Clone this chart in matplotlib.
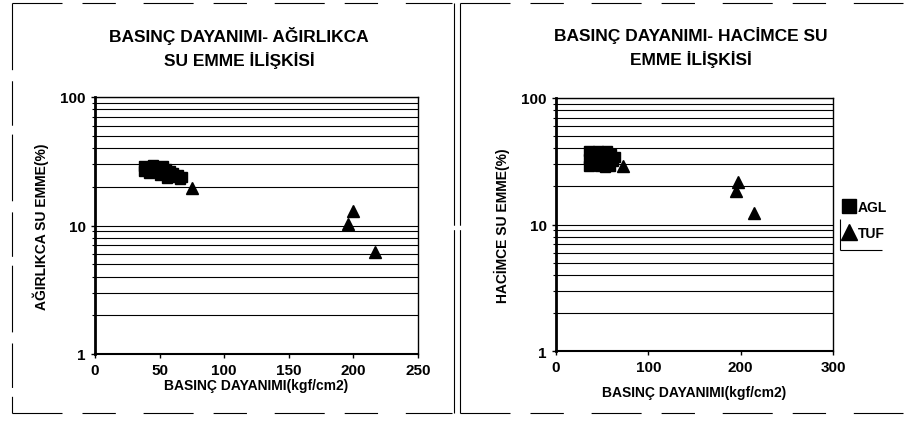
import matplotlib.pyplot as plt
from matplotlib.lines import Line2D
from matplotlib.ticker import FixedLocator, NullFormatter

plt.rcParams["font.family"] = ["Liberation Sans", "DejaVu Sans"]
plt.rcParams["font.weight"] = "bold"

# left chart: compressive strength vs water absorption by weight
agl_w_x = [38, 38, 42, 45, 45, 48, 50, 52, 53, 55, 57, 58, 60, 62, 64, 66, 67, 50, 42, 56]
agl_w_y = [29, 26.5, 28, 29.5, 26, 28.5, 27, 25, 29, 27.5, 24.5, 26.5, 25.5, 24, 24.5, 23, 24, 24.5, 25.5, 23.5]
tuf_w_x = [75, 200, 196, 217]
tuf_w_y = [19.5, 13.0, 10.3, 6.2]

# right chart: compressive strength vs water absorption by volume
agl_v_x = [36, 36, 36, 40, 42, 45, 46, 48, 50, 52, 55, 56, 58, 60, 62, 64, 44, 53]
agl_v_y = [38, 33, 29, 37, 31, 38, 34, 29, 36, 31.5, 38, 34, 29, 36, 32, 34, 35, 28.5]
tuf_v_x = [73, 197, 195, 214]
tuf_v_y = [29, 21.5, 18.5, 12.3]

left_xticks = [0, 50, 100, 150, 200, 250]
right_xticks = [0, 100, 200, 300]
yticks = [1, 10, 100]

fig = plt.figure(figsize=(9.07, 4.27), dpi=100)


# scanned page frames (broken lines)
def frame_line(x0, y0, x1, y1, dashes=(45, 18, 30, 25)):
    fig.add_artist(Line2D([x0 / 907, x1 / 907], [1 - y0 / 427, 1 - y1 / 427],
                          color="black", lw=0.8, dashes=dashes))


frame_line(12, 4, 452, 4)
frame_line(12, 4, 12, 414, dashes=(60, 10, 40, 8))
frame_line(12, 414, 452, 414)
frame_line(454, 4, 454, 414, dashes=(200, 4))
frame_line(460, 4, 903, 4)
frame_line(460, 4, 460, 414, dashes=(200, 4))
frame_line(460, 414, 903, 414)


def setup(ax, xmax, xticks):
    ax.set_yscale("log")
    ax.set_ylim(1, 100)
    ax.set_xlim(0, xmax)
    ax.set_xticks(xticks)
    ax.set_yticks(yticks)
    ax.set_yticklabels([str(t) for t in yticks])
    minors = [m * 10 ** d for d in range(0, 2) for m in range(2, 10)]
    ax.yaxis.set_minor_locator(FixedLocator(minors))
    ax.yaxis.set_minor_formatter(NullFormatter())
    ax.grid(True, which="both", axis="y", color="black", lw=0.8)
    ax.tick_params(axis="both", which="major", labelsize=11, length=3, width=1)
    ax.tick_params(axis="y", which="minor", length=2, width=0.8)
    for s in ax.spines.values():
        s.set_linewidth(1.0)
    ax.spines["left"].set_linewidth(2.0)
    ax.spines["bottom"].set_linewidth(1.5)
    for lab in ax.get_xticklabels() + ax.get_yticklabels():
        lab.set_fontweight("bold")


ax1 = fig.add_axes([95 / 907, 1 - 355 / 427, 323 / 907, 257 / 427])
setup(ax1, 250, left_xticks)
ax1.plot(agl_w_x, agl_w_y, "s", color="black", ms=7, ls="none", label="AGL")
ax1.plot(tuf_w_x, tuf_w_y, "^", color="black", ms=8, ls="none", label="TUF")
ax1.set_xlabel("BASINÇ DAYANIMI(kgf/cm2)", fontsize=10, fontweight="bold", labelpad=1)
ax1.set_ylabel("AĞIRLIKCA SU EMME(%)", fontsize=10, fontweight="bold", labelpad=8)

ax2 = fig.add_axes([556 / 907, 1 - 352 / 427, 277 / 907, 253 / 427])
setup(ax2, 300, right_xticks)
ax2.plot(agl_v_x, agl_v_y, "s", color="black", ms=7, ls="none", label="AGL")
ax2.plot(tuf_v_x, tuf_v_y, "^", color="black", ms=8, ls="none", label="TUF")
ax2.set_xlabel("BASINÇ DAYANIMI(kgf/cm2)", fontsize=10, fontweight="bold", labelpad=8)
ax2.set_ylabel("HACİMCE SU EMME(%)", fontsize=10, fontweight="bold", labelpad=8)

fig.text(239 / 907, 1 - 48 / 427, "BASINÇ DAYANIMI- AĞIRLIKCA\nSU EMME İLİŞKİSİ",
         ha="center", va="center", fontsize=12.5, fontweight="heavy", linespacing=1.5)
fig.text(691 / 907, 1 - 48 / 427, "BASINÇ DAYANIMI- HACİMCE SU\nEMME İLİŞKİSİ",
         ha="center", va="center", fontsize=12.5, fontweight="heavy", linespacing=1.5)

leg = ax2.legend(loc="upper left", bbox_to_anchor=(838 / 907, 1 - 198 / 427),
                 bbox_transform=fig.transFigure, frameon=False,
                 handletextpad=0.0, handlelength=1.2, borderpad=0.2, labelspacing=0.9,
                 markerscale=1.5, prop={"size": 10, "weight": "bold"}, borderaxespad=0)

# partial legend frame as in the scan
frame_line(840, 220, 840, 251, dashes=(200, 1))
frame_line(840, 251, 882, 251, dashes=(200, 1))

fig.savefig("out.png", dpi=100)
